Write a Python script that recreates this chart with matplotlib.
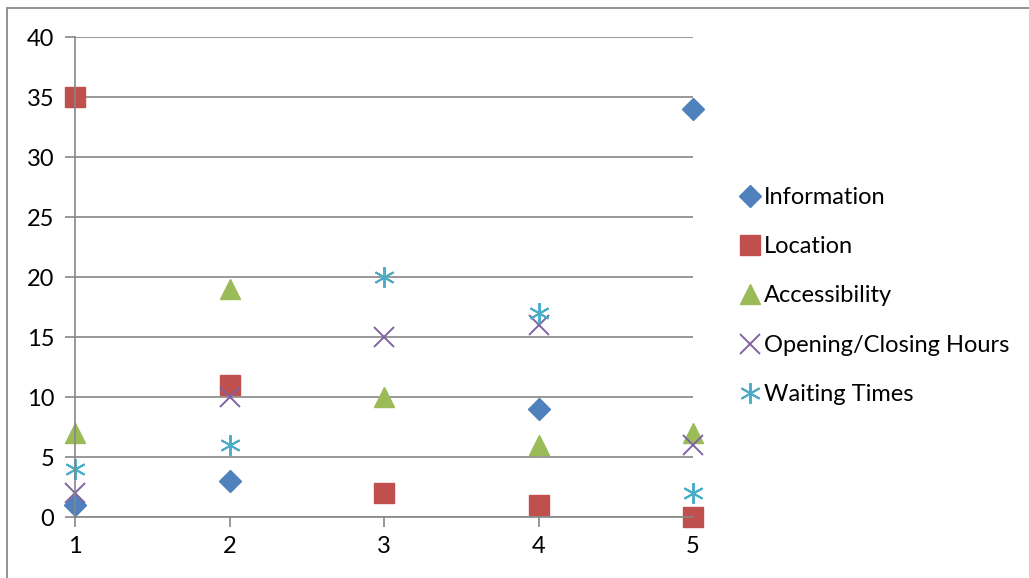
import matplotlib.pyplot as plt
from matplotlib.patches import Rectangle

plt.rcParams['font.family'] = ['Lato', 'DejaVu Sans']

# survey categories, scored at positions 1..5 (nan = no response recorded)
positions = [1, 2, 3, 4, 5]
information = [1, 3, float('nan'), 9, 34]
location = [35, 11, 2, 1, 0]
accessibility = [7, 19, 10, 6, 7]
opening_hours = [2, 10, 15, 16, 6]
waiting_times = [4, 6, 20, 17, 2]

y_ticks = [0, 5, 10, 15, 20, 25, 30, 35, 40]

W, H = 1029, 578
fig = plt.figure(figsize=(W / 100, H / 100), dpi=100)
ax = fig.add_axes([75 / W, 1 - 517 / H, (693 - 75) / W, (517 - 37) / H])

# outer chart border (cut off on the right and bottom)
fig.patches.append(Rectangle((7 / W, -0.1), 1.2, 1 - 8 / H + 0.1, transform=fig.transFigure,
                             fill=False, edgecolor='#898989', linewidth=1.3))

ms = 15
ax.plot(positions, information, linestyle='none', marker='D', markersize=ms * 0.75,
        color='#4F81BD', label='Information', clip_on=False)
ax.plot(positions, location, linestyle='none', marker='s', markersize=ms,
        color='#C0504D', label='Location', clip_on=False)
ax.plot(positions, accessibility, linestyle='none', marker='^', markersize=ms,
        color='#9BBB59', label='Accessibility', clip_on=False)
ax.plot(positions, opening_hours, linestyle='none', marker='x', markersize=ms,
        markeredgewidth=1.4, color='#8064A2', label='Opening/Closing Hours', clip_on=False)
ax.plot(positions, waiting_times, linestyle='none', marker=(6, 2, 0), markersize=ms,
        markeredgewidth=1.4, color='#4BACC6', label='Waiting Times', clip_on=False)

ax.set_xlim(1, 5)
ax.set_ylim(0, 40)
ax.set_xticks(positions)
ax.set_yticks(y_ticks)
ax.yaxis.grid(True, color='#868686', linewidth=1.2)
ax.set_axisbelow(True)

for side in ['top', 'right']:
    ax.spines[side].set_visible(False)
for side in ['left', 'bottom']:
    ax.spines[side].set_color('#868686')
    ax.spines[side].set_linewidth(1.2)
ax.tick_params(axis='both', colors='#868686', labelcolor='black', labelsize=17,
               length=7, width=1.2)
ax.tick_params(axis='y', pad=8)
ax.tick_params(axis='x', pad=7)

leg = ax.legend(loc='center left', bbox_to_anchor=(743 / W, 1 - 296 / H),
                bbox_transform=fig.transFigure, frameon=False, fontsize=17,
                handlelength=0.6, handletextpad=0.3, labelspacing=1.2,
                borderaxespad=0, borderpad=0, numpoints=1)

fig.savefig('out.png', dpi=100)
